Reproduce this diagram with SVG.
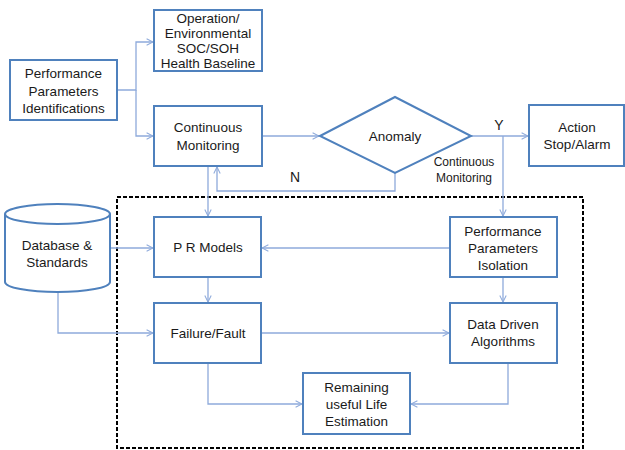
<svg xmlns="http://www.w3.org/2000/svg" width="625" height="450" viewBox="0 0 625 450">
<style>
.box{fill:#fff;stroke:#4F81BD;stroke-width:2}
.c{fill:none;stroke:#8EAADB;stroke-width:1.3}
.t{font-family:"Liberation Sans",Arial,sans-serif;font-size:13.5px;fill:#1a1a1a;text-anchor:middle}
</style>
<defs>
<marker id="a" viewBox="0 0 10 10" refX="9" refY="5" markerWidth="8" markerHeight="8" markerUnits="userSpaceOnUse" orient="auto">
<path d="M1,1 L9,5 L1,9" fill="none" stroke="#8EAADB" stroke-width="1.3"/>
</marker>
</defs>
<rect x="0" y="0" width="625" height="450" fill="#fff"/>
<rect id="dashed" x="117" y="197" width="466" height="251" fill="none" stroke="#000" stroke-width="2" stroke-dasharray="4,2"/>
<g id="connectors">
<path class="c" d="M117,90 H136 V42 H153" marker-end="url(#a)"/>
<path class="c" d="M136,90 V136 H153" marker-end="url(#a)"/>
<path class="c" d="M262,136 H319" marker-end="url(#a)"/>
<path class="c" d="M471,136 H528" marker-end="url(#a)"/>
<path class="c" d="M503,136 V216" marker-end="url(#a)"/>
<path class="c" d="M395,173 V191 H217 V167" marker-end="url(#a)"/>
<path class="c" d="M208,166 V216" marker-end="url(#a)"/>
<path class="c" d="M106,248 H153" marker-end="url(#a)"/>
<path class="c" d="M58,292 V333 H153" marker-end="url(#a)"/>
<path class="c" d="M450,248 H262" marker-end="url(#a)"/>
<path class="c" d="M208,277 V302" marker-end="url(#a)"/>
<path class="c" d="M261,333 H449" marker-end="url(#a)"/>
<path class="c" d="M503,277 V302" marker-end="url(#a)"/>
<path class="c" d="M208,363 V404 H302" marker-end="url(#a)"/>
<path class="c" d="M508,363 V404 H411" marker-end="url(#a)"/>
</g>
<g id="ppi"><rect class="box" x="10" y="60" width="107" height="60"/>
<text class="t" x="63.5" y="78">Performance</text><text class="t" x="63.5" y="95.5">Parameters</text><text class="t" x="63.5" y="113">Identifications</text></g>
<g id="operation"><rect class="box" x="154" y="10" width="108" height="61"/>
<text class="t" x="208" y="23">Operation/</text><text class="t" x="208" y="38">Environmental</text><text class="t" x="208" y="53">SOC/SOH</text><text class="t" x="208" y="68">Health Baseline</text></g>
<g id="monitoring"><rect class="box" x="154" y="106" width="108" height="60"/>
<text class="t" x="208" y="132">Continuous</text><text class="t" x="208" y="150">Monitoring</text></g>
<g id="anomaly"><polygon class="box" points="320,136 395,97 471,136 395,173"/>
<text class="t" x="395" y="141">Anomaly</text></g>
<g id="action"><rect class="box" x="529" y="105" width="95" height="61"/>
<text class="t" x="577" y="132">Action</text><text class="t" x="577" y="149">Stop/Alarm</text></g>
<g id="labels">
<text class="t" x="499" y="130" style="font-size:14px">Y</text>
<text class="t" x="295" y="182" style="font-size:14px">N</text>
<text class="t" x="464" y="166" style="font-size:12px">Continuous</text>
<text class="t" x="464" y="182" style="font-size:12px">Monitoring</text>
</g>
<g id="database">
<path class="box" d="M5,214 V282 A52.5,10 0 0 0 110,282 V214 A52.5,10 0 0 0 5,214 Z"/>
<path d="M5,214 A52.5,10 0 0 0 110,214" fill="none" stroke="#4F81BD" stroke-width="2"/>
<text class="t" x="57" y="250">Database  &amp;</text><text class="t" x="57" y="267">Standards</text></g>
<g id="prmodels"><rect class="box" x="154" y="217" width="107" height="60"/>
<text class="t" x="208" y="252">P  R Models</text></g>
<g id="isolation"><rect class="box" x="450" y="217" width="107" height="60"/>
<text class="t" x="503" y="236">Performance</text><text class="t" x="503" y="253">Parameters</text><text class="t" x="503" y="270">Isolation</text></g>
<g id="failure"><rect class="box" x="154" y="303" width="107" height="60"/>
<text class="t" x="208" y="338">Failure/Fault</text></g>
<g id="datadriven"><rect class="box" x="450" y="303" width="107" height="60"/>
<text class="t" x="503" y="329">Data  Driven</text><text class="t" x="503" y="346">Algorithms</text></g>
<g id="rul"><rect class="box" x="303" y="373" width="107" height="61"/>
<text class="t" x="356.5" y="392">Remaining</text><text class="t" x="356.5" y="409">useful  Life</text><text class="t" x="356.5" y="426">Estimation</text></g>
</svg>
